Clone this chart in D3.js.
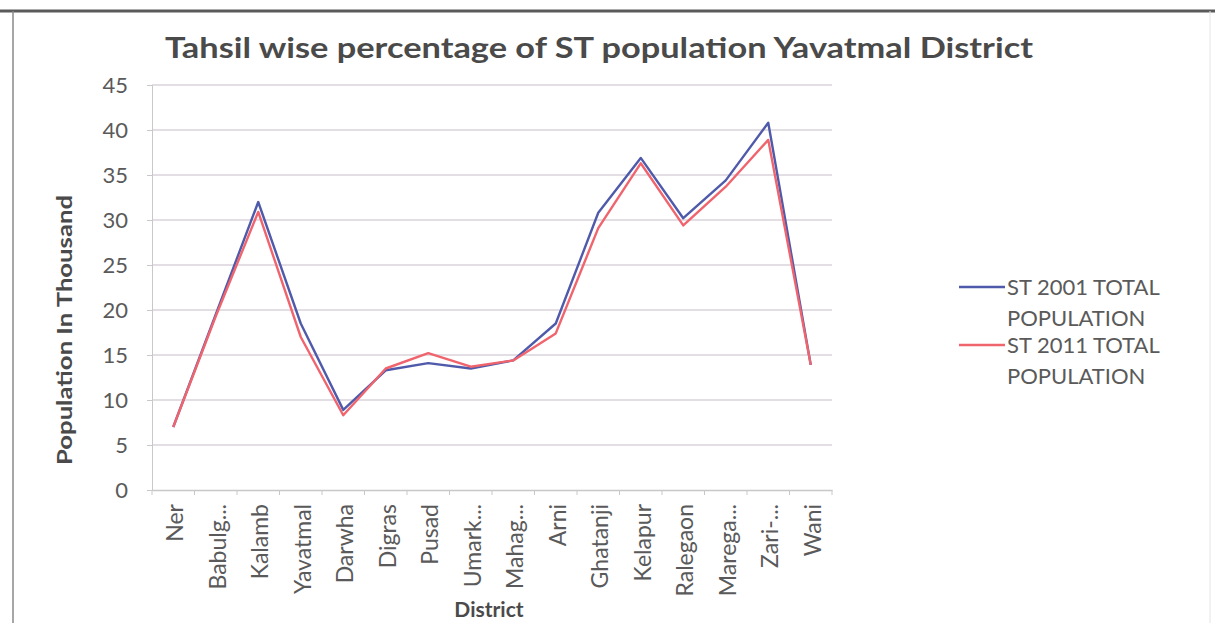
<!DOCTYPE html>
<html>
<head>
<meta charset="utf-8">
<script src="https://cdn.jsdelivr.net/npm/d3@7"></script>
<style>
  body { margin: 0; background: #fff; }
  svg { display: block; }
</style>
</head>
<body>
<div id="chart"></div>
<script>
// tahsil names as shown on the axis (Excel truncated some)
const tahsils = ["Ner", "Babulg...", "Kalamb", "Yavatmal", "Darwha", "Digras", "Pusad", "Umark...",
  "Mahag...", "Arni", "Ghatanji", "Kelapur", "Ralegaon", "Marega...", "Zari-...", "Wani"];

const st2001 = [7.0, 19.5, 32.0, 18.5, 8.9, 13.3, 14.1, 13.5, 14.4, 18.5, 30.8, 36.9, 30.2, 34.4, 40.8, 13.9];
const st2011 = [7.0, 19.3, 30.9, 17.0, 8.3, 13.5, 15.2, 13.7, 14.4, 17.4, 29.1, 36.3, 29.4, 33.7, 38.9, 13.9];

const yTicks = [0, 5, 10, 15, 20, 25, 30, 35, 40, 45];

const seriesNames = [["ST 2001 TOTAL", "POPULATION"], ["ST 2011 TOTAL", "POPULATION"]];
const seriesColors = ["#4f5aaa", "#f0646e"];

const FONT = "Lato, 'Open Sans', sans-serif";

const renderChart = () => {
  const W = 1215, H = 623;
  const plot = { left: 152, right: 832, top: 85, bottom: 490 };

  const svg = d3.select("#chart").append("svg")
    .attr("width", W)
    .attr("height", H)
    .style("font-family", FONT);

  // scanned page frame
  svg.append("line").attr("x1", 0).attr("x2", W).attr("y1", 11).attr("y2", 11)
    .attr("stroke", "#5a5a5a").attr("stroke-width", 3);
  svg.append("line").attr("x1", 13).attr("x2", 13).attr("y1", 11).attr("y2", H)
    .attr("stroke", "#8a8a8a").attr("stroke-width", 1.5);
  svg.append("line").attr("x1", 1210).attr("x2", 1210).attr("y1", 11).attr("y2", H)
    .attr("stroke", "#e4e4e4").attr("stroke-width", 1);

  const x = d3.scaleBand().domain(tahsils).range([plot.left, plot.right]);
  const y = d3.scaleLinear().domain([0, 45]).range([plot.bottom, plot.top]);

  // gridlines
  svg.append("g")
    .selectAll("line")
    .data(yTicks.filter((d) => d > 0))
    .join("line")
    .attr("x1", plot.left)
    .attr("x2", plot.right)
    .attr("y1", (d) => y(d))
    .attr("y2", (d) => y(d))
    .attr("stroke", "#d9d3da")
    .attr("stroke-width", 1.3);

  // y axis
  const yAxis = svg.append("g")
    .attr("transform", `translate(${plot.left},0)`)
    .call(d3.axisLeft(y).tickValues(yTicks).tickSize(5).tickPadding(19));
  yAxis.select(".domain").attr("stroke", "#c8c8c8");
  yAxis.selectAll(".tick line").attr("stroke", "#c8c8c8");
  yAxis.selectAll(".tick text")
    .attr("fill", "#5a5a5a")
    .style("font-size", "22px")
    .style("font-family", FONT);

  // x axis
  const xAxis = svg.append("g")
    .attr("transform", `translate(0,${plot.bottom})`)
    .call(d3.axisBottom(x).tickSize(0).tickPadding(0));
  xAxis.select(".domain").attr("stroke", "#c8c8c8").attr("stroke-width", 1.3);
  xAxis.selectAll(".tick text")
    .attr("fill", "#5a5a5a")
    .style("font-size", "23px")
    .style("font-family", FONT)
    .attr("text-anchor", "end")
    .attr("transform", "rotate(-90)")
    .attr("x", -14)
    .attr("y", 2)
    .attr("dy", "0.35em");

  // tick marks between categories
  svg.append("g")
    .selectAll("line")
    .data(d3.range(tahsils.length + 1))
    .join("line")
    .attr("x1", (i) => plot.left + i * x.step())
    .attr("x2", (i) => plot.left + i * x.step())
    .attr("y1", plot.bottom)
    .attr("y2", plot.bottom + 5)
    .attr("stroke", "#c8c8c8");

  // lines
  const line = d3.line()
    .x((d, i) => x(tahsils[i]) + x.bandwidth() / 2)
    .y((d) => y(d));

  [st2001, st2011].forEach((s, k) => {
    svg.append("path")
      .datum(s)
      .attr("fill", "none")
      .attr("stroke", seriesColors[k])
      .attr("stroke-width", 2.4)
      .attr("stroke-linejoin", "round")
      .attr("d", line);
  });

  // title
  svg.append("text")
    .attr("x", 599)
    .attr("y", 58)
    .attr("text-anchor", "middle")
    .attr("fill", "#4a4a4a")
    .style("font-size", "29px")
    .style("font-weight", "bold")
    .attr("textLength", 868)
    .attr("lengthAdjust", "spacingAndGlyphs")
    .text("Tahsil wise percentage of ST population Yavatmal District");

  // axis titles
  svg.append("text")
    .attr("transform", "translate(72,330) rotate(-90)")
    .attr("text-anchor", "middle")
    .attr("fill", "#4a4a4a")
    .style("font-size", "21px")
    .style("font-weight", "bold")
    .attr("textLength", 270)
    .attr("lengthAdjust", "spacingAndGlyphs")
    .text("Population In Thousand");

  svg.append("text")
    .attr("x", 489)
    .attr("y", 617)
    .attr("text-anchor", "middle")
    .attr("fill", "#4a4a4a")
    .style("font-size", "21px")
    .style("font-weight", "bold")
    .text("District");

  // legend
  const legend = svg.append("g");
  seriesNames.forEach((lines, k) => {
    const ly = 287 + k * 58;
    legend.append("line")
      .attr("x1", 959).attr("x2", 1005)
      .attr("y1", ly).attr("y2", ly)
      .attr("stroke", seriesColors[k])
      .attr("stroke-width", 2.4);
    lines.forEach((t, j) => {
      legend.append("text")
        .attr("x", 1007)
        .attr("y", ly + j * 31)
        .attr("dy", "0.35em")
        .attr("fill", "#5a5a5a")
        .style("font-size", "22px")
        .text(t);
    });
  });
};

renderChart();
</script>
</body>
</html>
